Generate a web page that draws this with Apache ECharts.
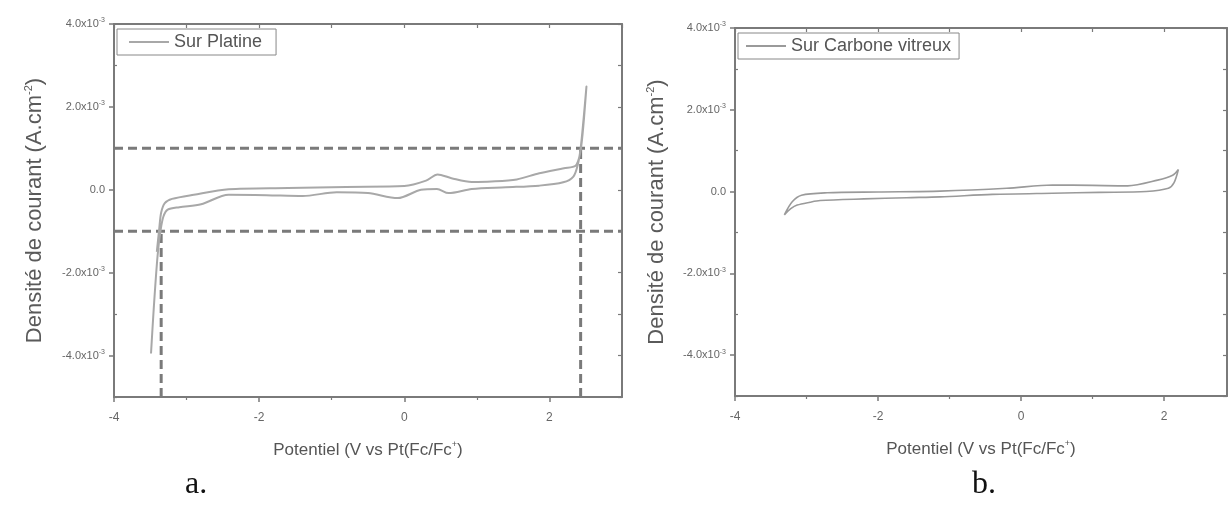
<!DOCTYPE html>
<html>
<head>
<meta charset="utf-8">
<script src="https://cdn.jsdelivr.net/npm/echarts@6/dist/echarts.min.js"></script>
<style>
  html, body { margin: 0; padding: 0; background: #ffffff; }
  #chart { width: 1228px; height: 506px; }
</style>
</head>
<body>
<div id="chart"></div>
<script>
// ---------- DATA (current density in units of 1e-3 A.cm^-2, potential in V) ----------
const platineE = [-3.49, -3.45, -3.40, -3.36, -3.32, -3.26, -3.10, -2.80, -2.42, -1.90, -1.40, -0.93, -0.50, -0.09, 0.23, 0.45, 0.61, 0.93, 1.40, 1.86, 2.19, 2.33, 2.39, 2.43, 2.47, 2.51,
                  2.46, 2.42, 2.36, 2.20, 1.86, 1.55, 1.20, 0.93, 0.65, 0.46, 0.30, 0.00, -0.80, -1.60, -2.42, -2.90, -3.20, -3.30, -3.35, -3.38, -3.41];
const platineJ = [-3.95, -2.80, -1.60, -1.00, -0.65, -0.48, -0.42, -0.35, -0.12, -0.13, -0.15, -0.06, -0.08, -0.20, 0.00, 0.02, -0.08, 0.02, 0.06, 0.10, 0.18, 0.32, 0.60, 1.00, 1.70, 2.49,
                  1.40, 0.85, 0.58, 0.52, 0.40, 0.25, 0.20, 0.19, 0.28, 0.37, 0.22, 0.09, 0.07, 0.04, 0.01, -0.12, -0.22, -0.32, -0.55, -1.00, -1.50];

const carboneE = [-3.31, -3.22, -3.13, -2.95, -2.81, -2.20, -1.60, -1.13, -0.40, 0.44, 1.10, 1.75, 2.06, 2.14, 2.20,
                  2.12, 1.91, 1.49, 1.00, 0.44, -0.20, -1.13, -2.00, -2.71, -3.07, -3.20, -3.31];
const carboneJ = [-0.57, -0.42, -0.33, -0.26, -0.22, -0.18, -0.15, -0.13, -0.07, -0.04, -0.02, 0.00, 0.08, 0.22, 0.54,
                  0.40, 0.28, 0.14, 0.15, 0.16, 0.08, 0.01, -0.01, -0.03, -0.09, -0.25, -0.57];

// Stability window markers on platinum (dashed lines)
const windowCurrents = [1.0, -1.0];
const windowPotentials = [-3.35, 2.43];

// Axis ticks
const xMajorTicks = [-4, -2, 0, 2];
const xMinorTicks = [-3, -1, 1];
const yMajorTicks = [-4, -2, 0, 2, 4];
const yMinorTicks = [-5, -3, -1, 1, 3];
const xTopTicksA = [-4, -3, -2, -1, 0, 1, 2, 3];
const xTopTicksB = [-4, -3, -2, -1, 0, 1, 2];
const yRightTicks = [-5, -4, -3, -2, -1, 0, 1, 2, 3, 4];

const seriesNames = ['Sur Platine', 'Sur Carbone vitreux'];
const panelLabels = ['a.', 'b.'];

// ---------- CHART ----------
const X_MIN = -4, X_MAX_A = 3, X_MAX_B = 2.88, Y_MIN = -5, Y_MAX = 4;
const FRAME = '#7a7a7a';
const LABEL = '#666666';
const FONT = 'Liberation Sans, Arial, sans-serif';

function pairs(xs, ys) { return xs.map((x, i) => [x, ys[i]]); }

function yLabel(v) {
  if (v === 0) return '{m|0.0}';
  return '{m|' + v.toFixed(1) + 'x10}{s|-3}';
}
const yRich = {
  m: { fontSize: 11, color: LABEL, fontFamily: FONT, lineHeight: 14 },
  s: { fontSize: 7, color: LABEL, fontFamily: FONT, verticalAlign: 'top', lineHeight: 14, padding: [0, 0, 5, 0] }
};

const grids = [
  { left: 114, right: 1228 - 622, top: 24, bottom: 506 - 397, containLabel: false },
  { left: 735, right: 1, top: 28, bottom: 506 - 396, containLabel: false }
];

function makeXAxes(gi, xmax, topTicks) {
  return [
    { // bottom main
      type: 'value', gridIndex: gi, position: 'bottom', min: X_MIN, max: xmax, interval: 1,
      axisLine: { show: true, onZero: false, lineStyle: { color: FRAME, width: 2 } },
      axisTick: { show: true, inside: false, length: 5, customValues: xMajorTicks, lineStyle: { color: FRAME, width: 1.5 } },
      axisLabel: { show: true, customValues: xMajorTicks, margin: 15, fontSize: 12, color: LABEL, fontFamily: FONT,
                   formatter: v => String(v) },
      splitLine: { show: false },
      name: '{n|Potentiel (V vs Pt(Fc/Fc}{p|+}{n|)}', nameLocation: 'middle', nameGap: 43,
      nameTextStyle: { rich: {
        n: { fontSize: 17, color: '#555', fontFamily: FONT, lineHeight: 20 },
        p: { fontSize: 9, color: '#555', fontFamily: FONT, verticalAlign: 'top', lineHeight: 20 }
      } }
    },
    { // bottom minor ticks
      type: 'value', gridIndex: gi, position: 'bottom', min: X_MIN, max: xmax, interval: 1,
      axisLine: { show: false, onZero: false },
      axisTick: { show: true, inside: false, length: 3, customValues: xMinorTicks, lineStyle: { color: FRAME, width: 1.2 } },
      axisLabel: { show: false }, splitLine: { show: false }
    },
    { // top mirror
      type: 'value', gridIndex: gi, position: 'top', min: X_MIN, max: xmax, interval: 1,
      axisLine: { show: true, onZero: false, lineStyle: { color: FRAME, width: 2 } },
      axisTick: { show: true, inside: true, length: 4, customValues: topTicks, lineStyle: { color: FRAME, width: 1.2 } },
      axisLabel: { show: false }, splitLine: { show: false }
    }
  ];
}

function makeYAxes(gi, nameGap) {
  return [
    {
      type: 'value', gridIndex: gi, position: 'left', min: Y_MIN, max: Y_MAX, interval: 1,
      axisLine: { show: true, onZero: false, lineStyle: { color: FRAME, width: 2 } },
      axisTick: { show: true, inside: false, length: 5, customValues: yMajorTicks, lineStyle: { color: FRAME, width: 1.5 } },
      axisLabel: { show: true, customValues: yMajorTicks, margin: 9, formatter: yLabel, rich: yRich },
      splitLine: { show: false },
      name: '{n|Densité de courant (A.cm}{p|-2}{n|)}', nameLocation: 'middle', nameGap: nameGap,
      nameTextStyle: { rich: {
        n: { fontSize: 22, color: '#5a5a5a', fontFamily: FONT, lineHeight: 24 },
        p: { fontSize: 11, color: '#5a5a5a', fontFamily: FONT, verticalAlign: 'top', lineHeight: 24 }
      } }
    },
    {
      type: 'value', gridIndex: gi, position: 'left', min: Y_MIN, max: Y_MAX, interval: 1,
      axisLine: { show: false, onZero: false },
      axisTick: { show: true, inside: true, length: 3, customValues: yMinorTicks, lineStyle: { color: FRAME, width: 1.2 } },
      axisLabel: { show: false }, splitLine: { show: false }
    },
    {
      type: 'value', gridIndex: gi, position: 'right', min: Y_MIN, max: Y_MAX, interval: 1,
      axisLine: { show: true, onZero: false, lineStyle: { color: FRAME, width: 2 } },
      axisTick: { show: true, inside: true, length: 4, customValues: yRightTicks, lineStyle: { color: FRAME, width: 1.2 } },
      axisLabel: { show: false }, splitLine: { show: false }
    }
  ];
}

const xAxes = makeXAxes(0, X_MAX_A, xTopTicksA).concat(makeXAxes(1, X_MAX_B, xTopTicksB));
const yAxes = makeYAxes(0, 67).concat(makeYAxes(1, 66));

// dashed window lines built from the marker values and the axis extents
const dashStyle = { color: '#7a7a7a', width: 3, type: [9, 5] };
const dashedSeries = [];
windowCurrents.forEach((j, i) => {
  dashedSeries.push({
    type: 'line', xAxisIndex: 0, yAxisIndex: 0, name: 'hwin' + i,
    data: [[X_MIN, j], [X_MAX_A, j]], showSymbol: false, silent: true,
    lineStyle: dashStyle, z: 1
  });
});
windowPotentials.forEach((e, i) => {
  dashedSeries.push({
    type: 'line', xAxisIndex: 0, yAxisIndex: 0, name: 'vwin' + i,
    data: [[e, Y_MIN], [e, windowCurrents[i === 0 ? 1 : 0]]], showSymbol: false, silent: true,
    lineStyle: dashStyle, z: 1
  });
});

const option = {
  backgroundColor: '#ffffff',
  animation: false,
  grid: grids,
  xAxis: xAxes,
  yAxis: yAxes,
  title: [
    { text: panelLabels[0], left: 180, top: 464, textStyle: { fontFamily: 'Liberation Serif, Times New Roman, serif', fontSize: 32, fontWeight: 'normal', color: '#111' } },
    { text: panelLabels[1], left: 967, top: 464, textStyle: { fontFamily: 'Liberation Serif, Times New Roman, serif', fontSize: 32, fontWeight: 'normal', color: '#111' } }
  ],
  legend: [
    { data: [{ name: seriesNames[0], icon: 'rect' }], left: 117, top: 29, orient: 'vertical',
      itemWidth: 40, itemHeight: 2, itemGap: 0, padding: [4, 14, 4, 12],
      borderColor: '#888', borderWidth: 1, selectedMode: false,
      textStyle: { fontSize: 18, color: '#555', fontFamily: FONT } },
    { data: [{ name: seriesNames[1], icon: 'rect' }], left: 738, top: 33, orient: 'vertical',
      itemWidth: 40, itemHeight: 2, itemGap: 0, padding: [4, 8, 4, 8],
      borderColor: '#888', borderWidth: 1, selectedMode: false,
      textStyle: { fontSize: 18, color: '#555', fontFamily: FONT } }
  ],
  series: dashedSeries.concat([
    {
      type: 'line', name: seriesNames[0], xAxisIndex: 0, yAxisIndex: 0,
      data: pairs(platineE, platineJ), showSymbol: false, smooth: 0.3, z: 3,
      lineStyle: { color: '#a8a8a8', width: 2 }, itemStyle: { color: '#a8a8a8' }
    },
    {
      type: 'line', name: seriesNames[1], xAxisIndex: 3, yAxisIndex: 3,
      data: pairs(carboneE, carboneJ), showSymbol: false, smooth: 0.3, z: 3,
      lineStyle: { color: '#9a9a9a', width: 1.6 }, itemStyle: { color: '#9a9a9a' }
    }
  ])
};

const chart = echarts.init(document.getElementById('chart'), null, { renderer: 'canvas' });
chart.setOption(option);
</script>
</body>
</html>
